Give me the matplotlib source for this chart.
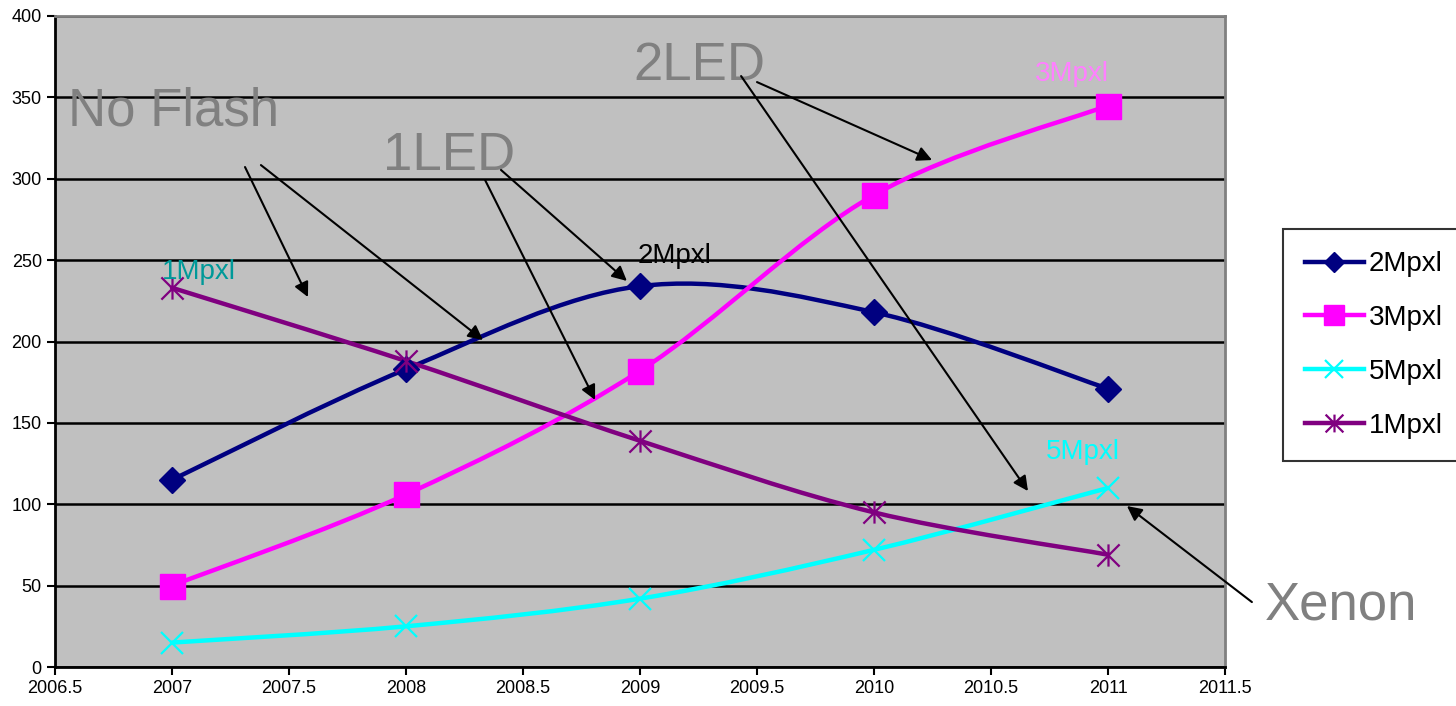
import numpy as np
import matplotlib.pyplot as plt
from matplotlib.path import Path
from matplotlib.patches import PathPatch
from matplotlib.lines import Line2D

plt.rcParams['font.family'] = ['Liberation Sans', 'DejaVu Sans']

# data
years = [2007, 2008, 2009, 2010, 2011]
mp2 = [115, 183, 234, 218, 171]
mp3 = [50, 106, 182, 290, 345]
mp5 = [15, 25, 42, 72, 110]
mp1 = [233, 188, 139, 95, 69]

names = ["2Mpxl", "3Mpxl", "5Mpxl", "1Mpxl"]
values = [mp2, mp3, mp5, mp1]
colors = ["#000080", "#FF00FF", "#00FFFF", "#800080"]

# excel style asterisk marker (x + vertical bar)
star = Path([(0, -1), (0, 1), (-1, -1), (1, 1), (-1, 1), (1, -1)],
            [Path.MOVETO, Path.LINETO, Path.MOVETO, Path.LINETO, Path.MOVETO, Path.LINETO])
markers = ["D", "s", "x", star]
msizes = [13, 18, 16, 16]


def smooth_path(x, y):
    # bezier control points like excel "smoothed line"
    p = np.column_stack([x, y]).astype(float)
    e = np.vstack([p[0], p, p[-1]])
    verts = [p[0]]; codes = [Path.MOVETO]
    for i in range(len(p) - 1):
        c1 = e[i+1] + (e[i+2] - e[i]) / 6
        c2 = e[i+2] - (e[i+3] - e[i+1]) / 6
        verts += [c1, c2, e[i+2]]; codes += [Path.CURVE4] * 3
    return Path(verts, codes)


fig = plt.figure(figsize=(14.56, 7.06), dpi=100)
ax = fig.add_axes([55/1456, 1-667/706, (1225-55)/1456, (667-16)/706])
ax.set_facecolor("#C0C0C0")

ax.set_xlim(2006.5, 2011.5); ax.set_ylim(0, 400)
ax.set_xticks(np.arange(2006.5, 2011.51, 0.5))
ax.set_xticklabels(["2006.5", "2007", "2007.5", "2008", "2008.5", "2009",
                    "2009.5", "2010", "2010.5", "2011", "2011.5"])
ax.set_yticks(np.arange(0, 401, 50))
ax.yaxis.grid(True, color="black", lw=1.8); ax.set_axisbelow(True)
ax.tick_params(labelsize=13, direction="out", length=6, width=1.5)
for s in ["left", "bottom"]:
    ax.spines[s].set_color("black"); ax.spines[s].set_linewidth(2)
for s in ["top", "right"]:
    ax.spines[s].set_color("#808080"); ax.spines[s].set_linewidth(2)

handles = []
for nm, v, c, m, ms in zip(names, values, colors, markers, msizes):
    ax.add_patch(PathPatch(smooth_path(years, v), fill=False, edgecolor=c, lw=3.2,
                           capstyle="round", joinstyle="round", zorder=3))
    if m in ("x",) or m is star:
        ax.plot(years, v, ls="none", marker=m, ms=ms, mec=c, mew=1.6, zorder=4, clip_on=False)
        h = Line2D([], [], color=c, lw=3.2, marker=m, ms=ms, mec=c, mew=1.6)
    else:
        ax.plot(years, v, ls="none", marker=m, ms=ms, mfc=c, mec=c, zorder=4, clip_on=False)
        h = Line2D([], [], color=c, lw=3.2, marker=m, ms=ms, mfc=c, mec=c)
    handles.append(h)

# series labels
ax.text(2006.957, 238.4, "1Mpxl", color="#009999", fontsize=20, zorder=5)
ax.text(2008.991, 248.2, "2Mpxl", color="black", fontsize=20, zorder=5)
ax.text(2010.688, 360, "3Mpxl", color="#FF80FF", fontsize=20, zorder=5)
ax.text(2010.735, 127.8, "5Mpxl", color="#00FFFF", fontsize=20, zorder=5)

# flash type callouts
ax.text(2006.556, 333, "No Flash", color="#808080", fontsize=38)
ax.text(2007.902, 305.4, "1LED", color="#808080", fontsize=38)
ax.text(2008.970, 360.7, "2LED", color="#808080", fontsize=38)
ax.text(2011.671, 28.9, "Xenon", color="#808080", fontsize=38, clip_on=False)

arr_tail = [(2007.312, 307.2), (2007.380, 308.4), (2008.338, 299.2), (2008.406, 305.4),
            (2009.432, 363.1), (2009.500, 359.4), (2011.615, 39.9)]
arr_head = [(2007.581, 227.3), (2008.329, 200.9), (2008.808, 164.1), (2008.944, 237.2),
            (2010.658, 108.1), (2010.248, 311.5), (2011.081, 98.9)]
for t, hd in zip(arr_tail, arr_head):
    ax.annotate("", xy=hd, xytext=t, annotation_clip=False,
                arrowprops=dict(arrowstyle="-|>", color="black", lw=1.5,
                                mutation_scale=22, shrinkA=0, shrinkB=0), zorder=6)

leg = fig.legend(handles, names, loc="upper left", bbox_to_anchor=(1283/1456, 1-229/706),
                 fontsize=20, frameon=True, fancybox=False, edgecolor="black",
                 handlelength=2.1, labelspacing=1.0, markerscale=0.8, borderaxespad=0,
                 borderpad=0.8, handletextpad=0.2)
leg.get_frame().set_linewidth(1.5)

fig.savefig("out.png", dpi=100)
